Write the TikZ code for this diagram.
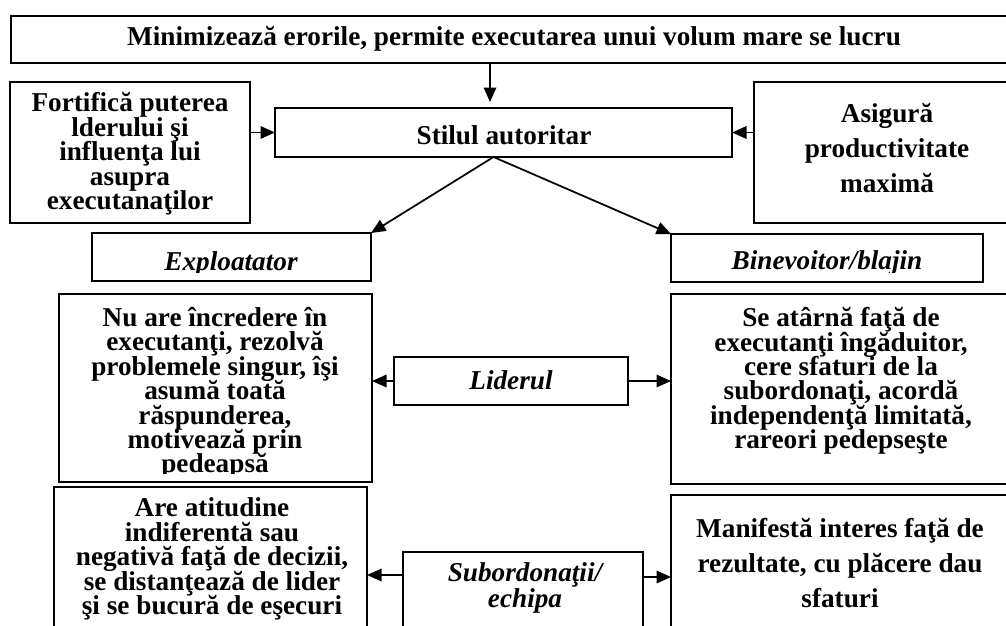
\documentclass[tikz,border=0pt]{standalone}
\usepackage{fontspec}
\setmainfont{Liberation Serif}
\usetikzlibrary{arrows.meta,calc}
\newcommand\pxbox[5]{\node[box,minimum width={(#4-#2)*0.02cm},minimum height={(#5-#3)*0.02cm}] (#1) at ({(#2+#4)/2},{(#3+#5)/2}) {};}
\newcommand\tightls{\lineskiplimit=-100pt\relax\lineskip=0pt\relax}
\begin{document}
\begin{tikzpicture}[x=0.02cm,y=-0.02cm,
  box/.style={draw,line width=1.1pt,inner sep=0pt,outer sep=0pt},
  txt/.style={font=\fontsize{15.5}{13.9}\selectfont\tightls\bfseries,align=center,inner sep=0pt},
  wide/.style={font=\fontsize{15.5}{19.7}\selectfont\tightls\bfseries},
  arr/.style={line width=1pt,-{Triangle[length=0.29cm,width=0.25cm]}}]
\clip (0,0) rectangle (1006,625);
\fill[white] (0,0) rectangle (1006,625);
% boxes
\pxbox{top}{11}{16}{1017}{63}
\pxbox{stil}{275}{108}{732}{157}
\pxbox{fort}{10}{82}{250}{223}
\pxbox{asig}{754}{82}{1020}{223}
\pxbox{expl}{92}{233}{371}{281}
\pxbox{bine}{671}{234}{983}{282}
\pxbox{nuare}{59}{294}{372}{482}
\pxbox{lid}{394}{357}{628}{405}
\pxbox{seat}{671}{294}{1011}{484}
\pxbox{areat}{54}{487}{367}{640}
\pxbox{sub}{403}{552}{643}{640}
\pxbox{man}{671}{495}{1009}{640}
% texts
\node[txt] (ttop) at (514,39) {Minimizează erorile, permite executarea unui volum mare se lucru};
\node[txt] (tstil) at (504,135) {Stilul autoritar};
\node[txt] (tfort) at (130,154) {Fortifică puterea\\lderului şi\\influenţa lui\\asupra\\executanaţilor};
\node[txt,wide] (tasig) at (887,148) {Asigură\\productivitate\\maximă};
\begin{scope}
\clip (92,233) rectangle (983,272);
\node[txt,anchor=base] (texpl) at (231,270) {\itshape Exploatator};
\node[txt,anchor=base] (tbine) at (827,269) {\itshape Binevoitor/blajin};
\end{scope}
\begin{scope}
\clip (59,294) rectangle (372,473);
\node[txt] (tnuare) at (215,393) {Nu are încredere în\\executanţi, rezolvă\\problemele singur, îşi\\asumă toată\\răspunderea,\\motivează prin\\pedeapsă};
\end{scope}
\node[txt] (tlid) at (511,380) {\itshape Liderul};
\node[txt] (tseat) at (841,381) {Se atârnă faţă de\\executanţi îngăduitor,\\cere sfaturi de la\\subordonaţi, acordă\\independenţă limitată,\\rareori pedepseşte};
\node[txt] (tareat) at (212,559) {Are atitudine\\indiferentă sau\\negativă faţă de decizii,\\se distanţează de lider\\şi se bucură de eşecuri};
\node[txt,font=\fontsize{15.5}{14.7}\selectfont\tightls\bfseries\itshape] (tsub) at (525,588) {Subordonaţii/\\echipa};
\node[txt,wide] (tman) at (840,563) {Manifestă interes faţă de\\rezultate, cu plăcere dau\\sfaturi};
% connectors
\coordinate (a1) at (490,102);
\draw[arr] (top.south -| a1) -- (a1);
\draw[arr] (stil.west -| fort.east) -- (stil.west);
\draw[arr] (stil.east -| asig.west) -- (stil.east);
\draw[arr] ([xshift=-0.2cm]stil.south) -- (expl.north east);
\draw[arr] ([xshift=-0.2cm]stil.south) -- (bine.north west);
\draw[arr] (lid.west) -- (lid.west -| nuare.east);
\draw[arr] (lid.east) -- (lid.east -| seat.west);
\path (sub.north west) ++(0,23) coordinate (subl);
\path (sub.north east) ++(0,25) coordinate (subr);
\draw[arr] (subl) -- (subl -| areat.east);
\draw[arr] (subr) -- (subr -| man.west);
\end{tikzpicture}
\end{document}
